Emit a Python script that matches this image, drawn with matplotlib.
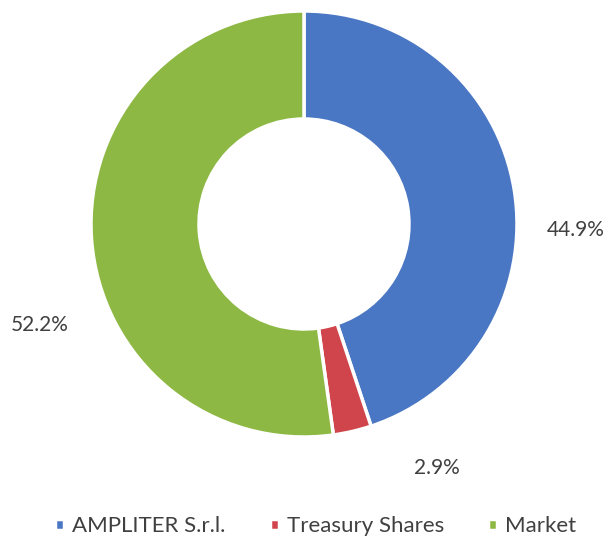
import matplotlib
matplotlib.use("Agg")
import matplotlib.pyplot as plt

categories = ["AMPLITER S.r.l.", "Treasury Shares", "Market"]
values = [44.9, 2.9, 52.2]
labels = ["44.9%", "2.9%", "52.2%"]
colors = ["#4A77C3", "#D0454B", "#8DB843"]

plt.rcParams['font.family'] = ['Lato', 'DejaVu Sans']

fig = plt.figure(figsize=(6.13, 5.37), dpi=100)
ax = fig.add_axes([0, 0, 1, 1])

wedges, _ = ax.pie(values, colors=colors, startangle=90, counterclock=False,
                   center=(304, 313), radius=213,
                   wedgeprops=dict(width=108, edgecolor='white', linewidth=2.5),
                   frame=True)
ax.set_xlim(0, 613)
ax.set_ylim(0, 537)
ax.set_aspect('equal')
ax.axis('off')

label_pos = [(576, 307), (437, 69), (40, 212)]
for (x, y), t in zip(label_pos, labels):
    ax.text(x, y, t, ha='center', va='center', fontsize=15, color='#404040')

leg = ax.legend(wedges, categories, loc='lower center', bbox_to_anchor=(0.515, -0.036),
                ncol=3, frameon=False, fontsize=16, handlelength=0.4, handleheight=0.4,
                handletextpad=0.35, columnspacing=2.0, labelcolor='#404040')
fig.savefig("out.png", dpi=100)
